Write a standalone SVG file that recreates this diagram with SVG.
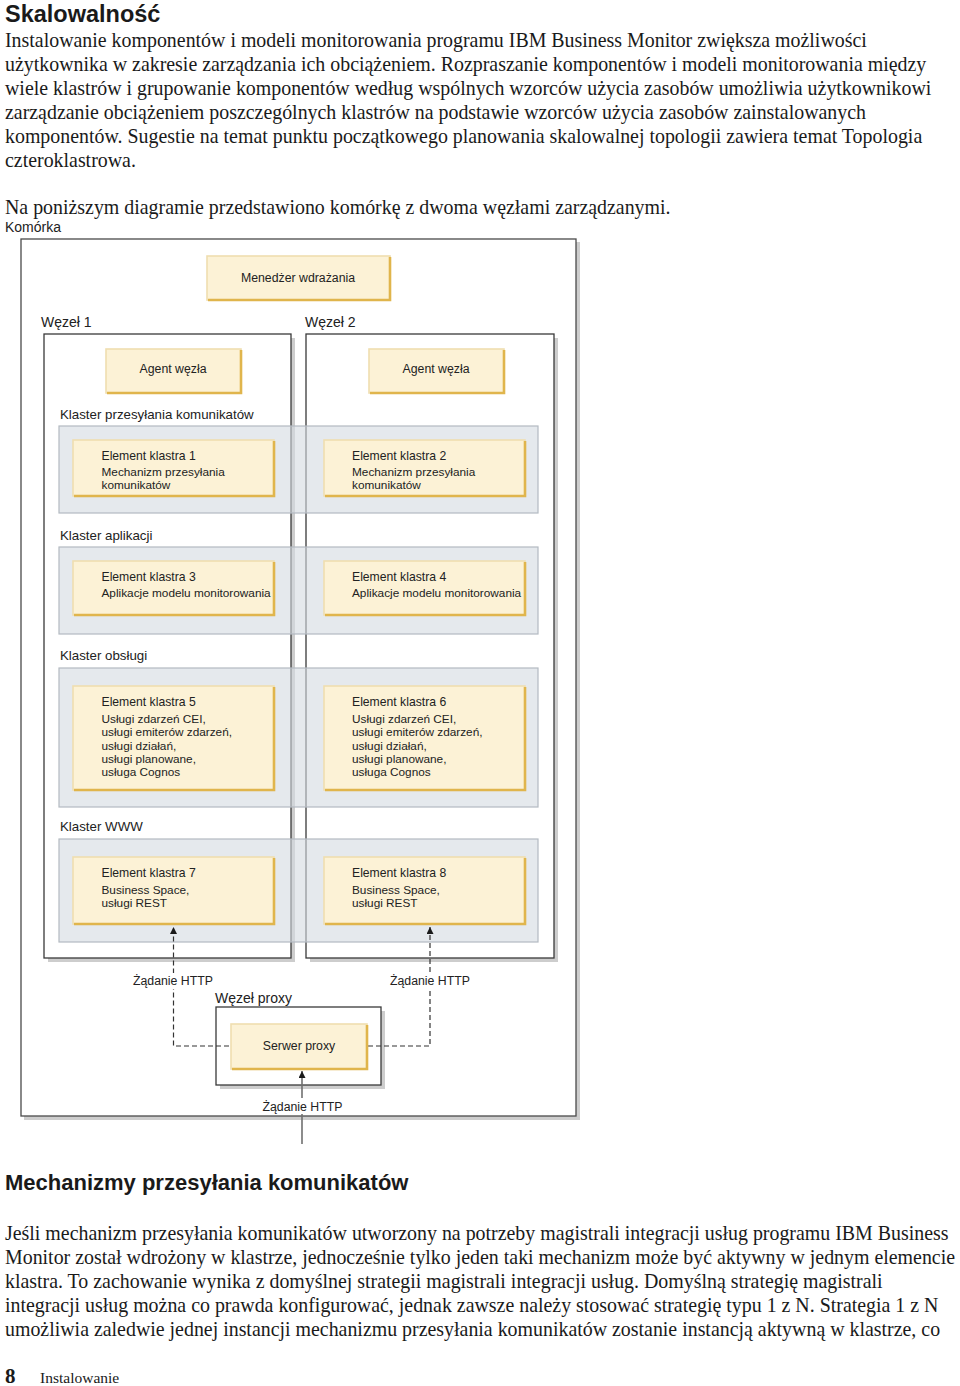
<svg xmlns="http://www.w3.org/2000/svg" width="960" height="1386" viewBox="0 0 960 1386">
<style>
.body{font-family:"Liberation Serif","Times New Roman",serif;font-size:19.9px;fill:#1a1a1a}
.h{font-family:"Liberation Sans",Arial,sans-serif;font-weight:bold;fill:#1a1a1a}
.lbl{font-family:"Liberation Sans",Arial,sans-serif;font-size:14px;fill:#222}
.cl{font-family:"Liberation Sans",Arial,sans-serif;font-size:13.3px;fill:#222}
.bt{font-family:"Liberation Sans",Arial,sans-serif;font-size:12.3px;fill:#222}
.et{font-family:"Liberation Sans",Arial,sans-serif;font-size:12.2px;fill:#222}
.es{font-family:"Liberation Sans",Arial,sans-serif;font-size:11.8px;fill:#222}
.box{fill:#fff;stroke:#3a3a3a;stroke-width:1.3}
.shadow{fill:#cdcdcd}
.band{fill:#d3dae1;fill-opacity:0.6}
.bandb{fill:none;stroke:#b3bac1;stroke-width:1.2}
.yb{fill:#fcf2d6;stroke:#efdeb0;stroke-width:1.6}
.yg{fill:none;stroke:#e0b54c;stroke-width:2.6}
.dash{fill:none;stroke:#333;stroke-width:1.2;stroke-dasharray:5 3}
.solid{fill:none;stroke:#707070;stroke-width:1.6}
.bg{fill:#fff}
</style>
<defs>
<marker id="ah" markerWidth="8" markerHeight="8" refX="7" refY="3.5" orient="auto" markerUnits="userSpaceOnUse">
<path d="M0,0 L7,3.5 L0,7 z" fill="#1a1a1a"/>
</marker>
</defs>
<rect width="960" height="1386" fill="#fff"/>

<g id="page-text">
<text class="h" x="5" y="22" font-size="23.5">Skalowalność</text>
<text class="body" x="5" y="47">Instalowanie komponentów i modeli monitorowania programu IBM Business Monitor zwiększa możliwości</text>
<text class="body" x="5" y="71">użytkownika w zakresie zarządzania ich obciążeniem. Rozpraszanie komponentów i modeli monitorowania między</text>
<text class="body" x="5" y="95">wiele klastrów i grupowanie komponentów według wspólnych wzorców użycia zasobów umożliwia użytkownikowi</text>
<text class="body" x="5" y="119">zarządzanie obciążeniem poszczególnych klastrów na podstawie wzorców użycia zasobów zainstalowanych</text>
<text class="body" x="5" y="143">komponentów. Sugestie na temat punktu początkowego planowania skalowalnej topologii zawiera temat Topologia</text>
<text class="body" x="5" y="167">czteroklastrowa.</text>
<text class="body" x="5" y="214">Na poniższym diagramie przedstawiono komórkę z dwoma węzłami zarządzanymi.</text>
<text class="h" x="5" y="1190" font-size="22">Mechanizmy przesyłania komunikatów</text>
<text class="body" x="5" y="1240">Jeśli mechanizm przesyłania komunikatów utworzony na potrzeby magistrali integracji usług programu IBM Business</text>
<text class="body" x="5" y="1264">Monitor został wdrożony w klastrze, jednocześnie tylko jeden taki mechanizm może być aktywny w jednym elemencie</text>
<text class="body" x="5" y="1288">klastra. To zachowanie wynika z domyślnej strategii magistrali integracji usług. Domyślną strategię magistrali</text>
<text class="body" x="5" y="1312">integracji usług można co prawda konfigurować, jednak zawsze należy stosować strategię typu 1 z N. Strategia 1 z N</text>
<text class="body" x="5" y="1336">umożliwia zaledwie jednej instancji mechanizmu przesyłania komunikatów zostanie instancją aktywną w klastrze, co</text>
<text x="5" y="1383" font-family="Liberation Serif,serif" font-weight="bold" font-size="21" fill="#1a1a1a">8</text>
<text x="40" y="1383" font-family="Liberation Serif,serif" font-size="15.5" fill="#1a1a1a">Instalowanie</text>
</g>

<g id="cell">
<text class="lbl" x="5" y="232">Komórka</text>
<rect class="shadow" x="24" y="242" width="556" height="878"/>
<rect x="21" y="239" width="555" height="877" fill="#fff" stroke="#4a4a4a" stroke-width="1.3"/>
</g>

<g id="manager">
<rect class="yb" x="207" y="256" width="183" height="44"/>
<path class="yg" d="M390,257 V300 H208"/>
<text class="bt" x="298" y="282" text-anchor="middle">Menedżer wdrażania</text>
</g>

<g id="node1">
<text class="lbl" x="41" y="327">Węzeł 1</text>
<rect class="shadow" x="48" y="338" width="247" height="624"/>
<rect class="box" x="44" y="334" width="247" height="624"/>
</g>
<g id="node2">
<text class="lbl" x="305" y="327">Węzeł 2</text>
<rect class="shadow" x="310" y="338" width="248" height="624"/>
<rect class="box" x="306" y="334" width="248" height="624"/>
</g>

<g id="agent1">
<rect class="yb" x="106" y="349" width="135" height="44"/>
<path class="yg" d="M241,350 V393 H107"/>
<text class="bt" x="173" y="373" text-anchor="middle">Agent węzła</text>
</g>
<g id="agent2">
<rect class="yb" x="369" y="349" width="135" height="44"/>
<path class="yg" d="M504,350 V393 H370"/>
<text class="bt" x="436" y="373" text-anchor="middle">Agent węzła</text>
</g>

<g id="cluster-messaging">
<text class="cl" x="60" y="419">Klaster przesyłania komunikatów</text>
<rect class="band" x="59" y="426" width="479" height="87"/>
<rect class="bandb" x="59" y="426" width="479" height="87"/>
</g>
<g id="cluster-app">
<text class="cl" x="60" y="540">Klaster aplikacji</text>
<rect class="band" x="59" y="547" width="479" height="87"/>
<rect class="bandb" x="59" y="547" width="479" height="87"/>
</g>
<g id="cluster-support">
<text class="cl" x="60" y="660">Klaster obsługi</text>
<rect class="band" x="59" y="668" width="479" height="139"/>
<rect class="bandb" x="59" y="668" width="479" height="139"/>
</g>
<g id="cluster-web">
<text class="cl" x="60" y="831">Klaster WWW</text>
<rect class="band" x="59" y="839" width="479" height="103"/>
<rect class="bandb" x="59" y="839" width="479" height="103"/>
</g>

<g id="member1">
<rect class="yb" x="73" y="440" width="201" height="56"/>
<path class="yg" d="M274,441 V496 H74"/>
<text class="et" x="101.5" y="460">Element klastra 1</text>
<text class="es" x="101.5" y="476">Mechanizm przesyłania</text>
<text class="es" x="101.5" y="489">komunikatów</text>
</g>
<g id="member2">
<rect class="yb" x="324" y="440" width="201" height="56"/>
<path class="yg" d="M525,441 V496 H325"/>
<text class="et" x="352" y="460">Element klastra 2</text>
<text class="es" x="352" y="476">Mechanizm przesyłania</text>
<text class="es" x="352" y="489">komunikatów</text>
</g>
<g id="member3">
<rect class="yb" x="73" y="561" width="201" height="54"/>
<path class="yg" d="M274,562 V615 H74"/>
<text class="et" x="101.5" y="581">Element klastra 3</text>
<text class="es" x="101.5" y="597">Aplikacje modelu monitorowania</text>
</g>
<g id="member4">
<rect class="yb" x="324" y="561" width="201" height="54"/>
<path class="yg" d="M525,562 V615 H325"/>
<text class="et" x="352" y="581">Element klastra 4</text>
<text class="es" x="352" y="597">Aplikacje modelu monitorowania</text>
</g>
<g id="member5">
<rect class="yb" x="73" y="686" width="201" height="104"/>
<path class="yg" d="M274,687 V790 H74"/>
<text class="et" x="101.5" y="706">Element klastra 5</text>
<text class="es" x="101.5" y="723">Usługi zdarzeń CEI,</text>
<text class="es" x="101.5" y="736">usługi emiterów zdarzeń,</text>
<text class="es" x="101.5" y="749.5">usługi działań,</text>
<text class="es" x="101.5" y="762.5">usługi planowane,</text>
<text class="es" x="101.5" y="776">usługa Cognos</text>
</g>
<g id="member6">
<rect class="yb" x="324" y="686" width="201" height="104"/>
<path class="yg" d="M525,687 V790 H325"/>
<text class="et" x="352" y="706">Element klastra 6</text>
<text class="es" x="352" y="723">Usługi zdarzeń CEI,</text>
<text class="es" x="352" y="736">usługi emiterów zdarzeń,</text>
<text class="es" x="352" y="749.5">usługi działań,</text>
<text class="es" x="352" y="762.5">usługi planowane,</text>
<text class="es" x="352" y="776">usługa Cognos</text>
</g>
<g id="member7">
<rect class="yb" x="73" y="857" width="201" height="67"/>
<path class="yg" d="M274,858 V924 H74"/>
<text class="et" x="101.5" y="877">Element klastra 7</text>
<text class="es" x="101.5" y="893.5">Business Space,</text>
<text class="es" x="101.5" y="907">usługi REST</text>
</g>
<g id="member8">
<rect class="yb" x="324" y="857" width="201" height="67"/>
<path class="yg" d="M525,858 V924 H325"/>
<text class="et" x="352" y="877">Element klastra 8</text>
<text class="es" x="352" y="893.5">Business Space,</text>
<text class="es" x="352" y="907">usługi REST</text>
</g>

<g id="proxy-node">
<text class="lbl" x="215" y="1003">Węzeł proxy</text>
<rect class="shadow" x="220" y="1011" width="165" height="78"/>
<rect class="box" x="216" y="1007" width="165" height="78"/>
</g>

<g id="connectors">
<path class="dash" d="M229,1046 H173.5 V927" marker-end="url(#ah)"/>
<path class="dash" d="M368,1046 H430 V927" marker-end="url(#ah)"/>
<path class="solid" d="M302,1144 V1071" marker-end="url(#ah)"/>
<rect class="bg" x="131" y="973" width="84" height="16"/>
<text class="bt" x="133" y="985">Żądanie HTTP</text>
<rect class="bg" x="388" y="973" width="84" height="16"/>
<text class="bt" x="390" y="985">Żądanie HTTP</text>
<rect class="bg" x="260" y="1098" width="84" height="16"/>
<text class="bt" x="262.5" y="1110.5">Żądanie HTTP</text>
</g>

<g id="proxy-server">
<rect class="yb" x="231" y="1024" width="136" height="45"/>
<path class="yg" d="M367,1025 V1069 H232"/>
<text class="bt" x="299" y="1050" text-anchor="middle">Serwer proxy</text>
</g>
</svg>
